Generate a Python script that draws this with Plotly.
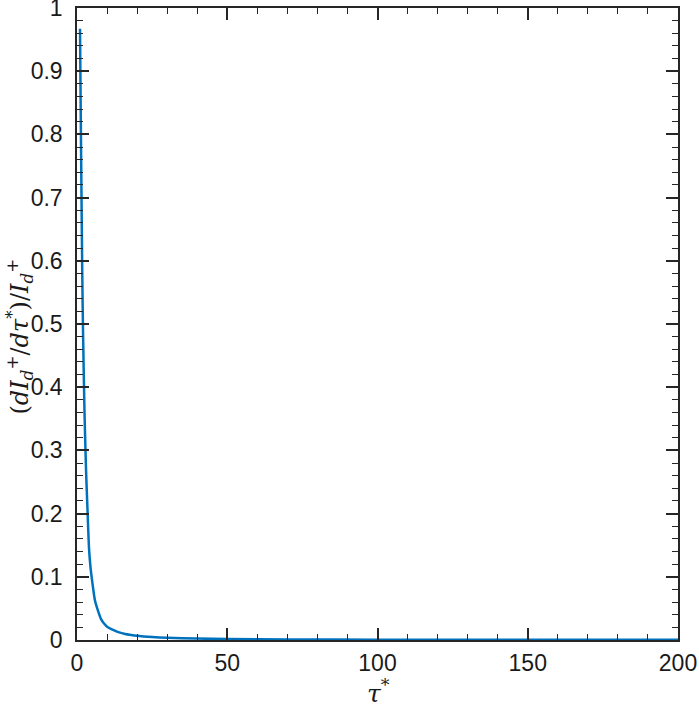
import plotly.graph_objects as go

tau = [1, 1.25, 1.5, 1.75, 2, 2.5, 3, 3.5, 4, 4.5, 5, 6, 7, 8, 9, 10, 12, 14, 16, 18,
       20, 25, 30, 40, 50, 70, 100, 150, 200]
ratio = [0.967, 0.83, 0.70, 0.58, 0.49, 0.36, 0.27, 0.205, 0.145, 0.115, 0.095, 0.062,
         0.046, 0.033, 0.026, 0.021, 0.016, 0.012, 0.0095, 0.008, 0.0068, 0.0048,
         0.0035, 0.0022, 0.0015, 0.0009, 0.0005, 0.0003, 0.0002]

x_ticks = [0, 50, 100, 150, 200]
y_ticks = [0, 0.1, 0.2, 0.3, 0.4, 0.5, 0.6, 0.7, 0.8, 0.9, 1]
y_tick_labels = ["0", "0.1", "0.2", "0.3", "0.4", "0.5", "0.6", "0.7", "0.8", "0.9", "1"]

fig = go.Figure()
fig.add_trace(go.Scatter(x=tau, y=ratio, mode="lines",
                         line=dict(color="#0072BD", width=2.5, shape="spline", smoothing=0.6)))

font_tick = dict(family="Liberation Sans, Arial, sans-serif", size=23, color="#1a1a1a")
axis_common = dict(showline=True, linecolor="#262626", linewidth=1.5, mirror="allticks",
                   ticks="inside", ticklen=12, tickwidth=1.5, tickcolor="#262626",
                   showgrid=False, zeroline=False, tickfont=font_tick, automargin=False,
                   ticklabeloverflow="allow")

fig.update_xaxes(range=[0, 200], tickvals=x_ticks, ticktext=[str(v) for v in x_ticks],
                 minor=dict(dtick=10, ticks="inside", ticklen=6, tickwidth=1.2,
                            tickcolor="#262626", showgrid=False),
                 ticklabelstandoff=2,
                 **axis_common)
fig.update_yaxes(range=[0, 1], tickvals=y_ticks, ticktext=y_tick_labels,
                 minor=dict(dtick=0.02, ticks="inside", ticklen=6, tickwidth=1.2,
                            tickcolor="#262626", showgrid=False),
                 ticklabelstandoff=8,
                 **axis_common)

title_font = dict(family="DejaVu Serif, serif", size=25, color="#1a1a1a")
fig.add_annotation(text="<i>τ</i><sup>*</sup>", xref="paper", yref="paper",
                   x=0.502, y=-0.111, xanchor="center", yanchor="bottom", showarrow=False,
                   font=title_font)
fig.add_annotation(text="(<i>dI</i><sub><i>d</i></sub><sup>+</sup>/<i>dτ</i><sup>*</sup>)/<i>I</i><sub><i>d</i></sub><sup>+</sup>",
                   xref="paper", yref="paper", x=-0.095, y=0.48, xanchor="center",
                   yanchor="middle", textangle=-90, showarrow=False,
                   font=dict(family="DejaVu Serif, serif", size=24, color="#1a1a1a"))

fig.update_layout(width=699, height=704, margin=dict(l=77, r=21, t=8, b=64),
                  plot_bgcolor="white", paper_bgcolor="white", showlegend=False)

fig.write_html("out.html", config={"displayModeBar": False},
               post_script="document.body.style.margin='0';")
